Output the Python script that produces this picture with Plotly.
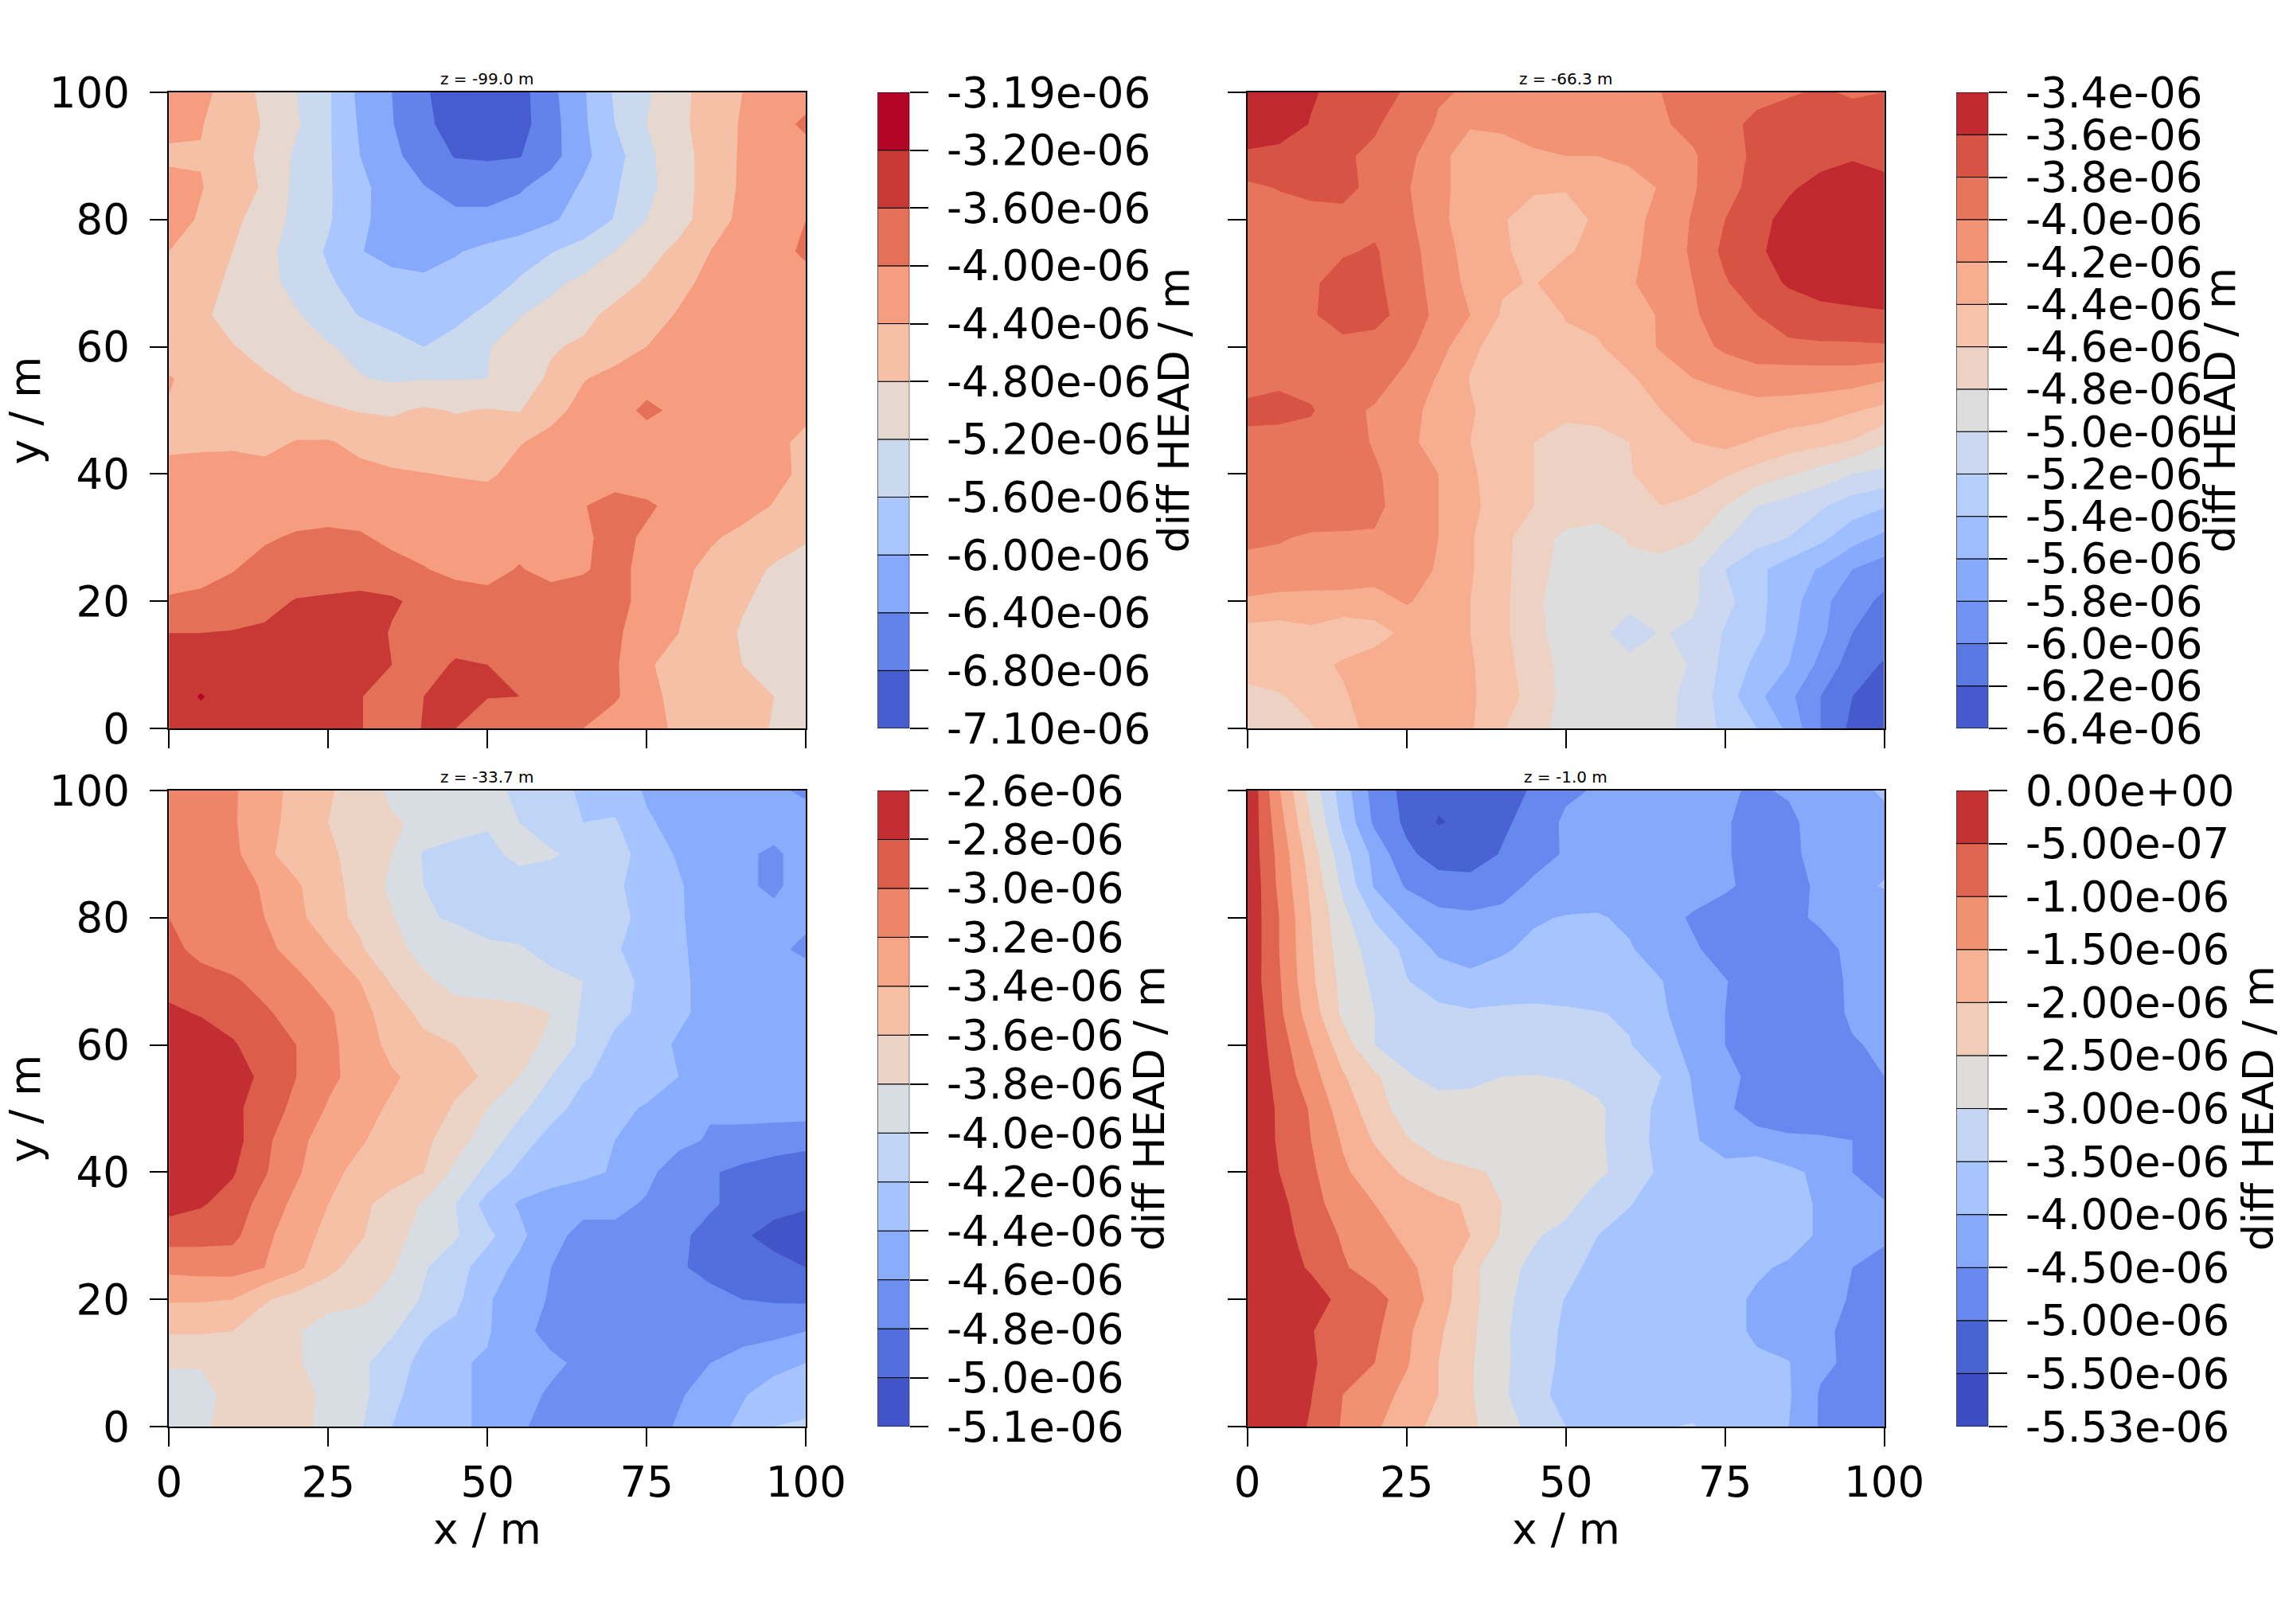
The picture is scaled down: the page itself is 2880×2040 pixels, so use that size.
import numpy as np
import plotly.graph_objects as go

W, H = 2880, 2040
x_m = list(range(0, 101, 5))
y_m = list(range(100, -1, -5))  # row order of the tables below, top row first

# diff HEAD in 1e-6 m, z = -99.0 m
head_z99 = [
[-4.2,-4.3,-4.57,-4.9,-5.2,-5.55,-6.1,-6.4,-6.75,-7.0,-7.1,-6.95,-6.5,-6.05,-5.55,-5.25,-4.9,-4.65,-4.4,-4.25,-4.1],
[-4.25,-4.38,-4.6,-4.83,-5.15,-5.55,-6.05,-6.38,-6.72,-6.95,-7.05,-6.95,-6.55,-6.07,-5.6,-5.2,-4.88,-4.65,-4.36,-4.1,-3.95],
[-4.5,-4.42,-4.65,-4.88,-5.27,-5.55,-6.0,-6.3,-6.6,-6.82,-6.85,-6.82,-6.55,-6.1,-5.75,-5.3,-4.95,-4.65,-4.35,-4.2,-4.1],
[-4.2,-4.38,-4.6,-4.85,-5.3,-5.55,-5.92,-6.15,-6.38,-6.55,-6.55,-6.45,-6.2,-5.95,-5.65,-5.3,-5.0,-4.6,-4.35,-4.2,-4.1],
[-4.2,-4.45,-4.7,-5.0,-5.3,-5.55,-5.95,-6.1,-6.2,-6.3,-6.3,-6.2,-6.05,-5.85,-5.58,-5.2,-4.95,-4.6,-4.3,-4.2,-4.0],
[-4.4,-4.6,-4.8,-5.1,-5.35,-5.65,-5.98,-6.15,-6.2,-6.03,-5.9,-5.8,-5.62,-5.45,-5.2,-4.95,-4.7,-4.4,-4.25,-4.1,-3.95],
[-4.5,-4.7,-4.85,-5.1,-5.3,-5.55,-5.75,-5.85,-5.9,-5.85,-5.8,-5.55,-5.3,-5.1,-4.95,-4.75,-4.5,-4.3,-4.2,-4.1,-4.1],
[-4.55,-4.72,-4.95,-5.05,-5.17,-5.4,-5.62,-5.75,-5.8,-5.7,-5.5,-5.22,-5.05,-4.9,-4.7,-4.55,-4.37,-4.3,-4.25,-4.2,-4.15],
[-4.55,-4.68,-4.78,-4.95,-5.1,-5.17,-5.3,-5.45,-5.6,-5.45,-5.22,-5.05,-4.83,-4.75,-4.55,-4.4,-4.3,-4.25,-4.2,-4.2,-4.15],
[-4.38,-4.5,-4.62,-4.75,-4.88,-5.0,-5.18,-5.25,-5.22,-5.22,-5.2,-4.95,-4.75,-4.42,-4.3,-4.2,-4.15,-4.15,-4.15,-4.15,-4.15],
[-4.42,-4.55,-4.58,-4.65,-4.7,-4.75,-4.82,-4.85,-4.75,-4.82,-4.78,-4.82,-4.5,-4.3,-4.2,-3.9,-4.1,-4.15,-4.15,-4.2,-4.3],
[-4.5,-4.47,-4.45,-4.5,-4.38,-4.37,-4.5,-4.6,-4.6,-4.65,-4.7,-4.42,-4.3,-4.2,-4.15,-4.22,-4.2,-4.2,-4.2,-4.3,-4.5],
[-4.25,-4.25,-4.27,-4.28,-4.25,-4.25,-4.3,-4.35,-4.39,-4.42,-4.45,-4.3,-4.25,-4.2,-4.2,-4.2,-4.2,-4.2,-4.25,-4.3,-4.48],
[-4.2,-4.2,-4.2,-4.2,-4.2,-4.2,-4.2,-4.22,-4.22,-4.25,-4.25,-4.2,-4.15,-4.02,-3.85,-3.95,-4.1,-4.15,-4.25,-4.42,-4.55],
[-4.2,-4.2,-4.18,-4.05,-3.95,-3.9,-3.95,-4.1,-4.15,-4.15,-4.15,-4.1,-4.1,-4.05,-3.9,-4.05,-4.2,-4.35,-4.5,-4.6,-4.75],
[-4.2,-4.15,-4.02,-3.85,-3.8,-3.78,-3.8,-3.85,-3.98,-4.1,-4.1,-3.98,-4.1,-4.03,-3.9,-4.1,-4.3,-4.5,-4.65,-4.85,-5.0],
[-3.95,-3.9,-3.8,-3.7,-3.58,-3.55,-3.5,-3.55,-3.7,-3.8,-3.9,-3.85,-3.85,-3.85,-3.9,-4.1,-4.35,-4.55,-4.75,-4.95,-5.05],
[-3.6,-3.6,-3.58,-3.55,-3.5,-3.45,-3.4,-3.63,-3.75,-3.8,-3.8,-3.8,-3.8,-3.85,-3.95,-4.15,-4.4,-4.55,-4.85,-4.95,-5.0],
[-3.5,-3.45,-3.45,-3.4,-3.4,-3.45,-3.45,-3.6,-3.78,-3.55,-3.6,-3.75,-3.8,-3.85,-3.95,-4.35,-4.55,-4.7,-4.8,-4.85,-5.0],
[-3.45,-3.17,-3.4,-3.4,-3.4,-3.42,-3.58,-3.8,-3.6,-3.55,-3.58,-3.6,-3.8,-3.85,-3.95,-4.25,-4.55,-4.7,-4.75,-4.8,-5.05],
[-3.5,-3.4,-3.45,-3.4,-3.4,-3.42,-3.58,-3.8,-3.58,-3.6,-3.9,-3.9,-3.9,-4.0,-4.2,-4.3,-4.45,-4.6,-4.7,-4.82,-4.95],
]

# z = -66.3 m
head_z66 = [
[-3.42,-3.48,-3.58,-3.66,-3.72,-3.82,-3.98,-4.02,-4.06,-4.08,-4.08,-4.08,-4.04,-4.0,-3.95,-3.82,-3.85,-3.82,-3.78,-3.82,-3.8],
[-3.45,-3.5,-3.61,-3.7,-3.78,-3.88,-4.02,-4.19,-4.17,-4.14,-4.13,-4.12,-4.1,-4.02,-3.95,-3.85,-3.76,-3.7,-3.7,-3.72,-3.78],
[-3.64,-3.66,-3.7,-3.78,-3.83,-3.92,-4.17,-4.25,-4.27,-4.22,-4.2,-4.2,-4.15,-4.08,-4.02,-3.88,-3.76,-3.68,-3.65,-3.62,-3.64],
[-3.84,-3.79,-3.75,-3.75,-3.85,-3.98,-4.15,-4.28,-4.35,-4.37,-4.38,-4.35,-4.3,-4.18,-4.02,-3.85,-3.75,-3.62,-3.55,-3.5,-3.56],
[-3.9,-3.88,-3.87,-3.85,-3.85,-3.95,-4.15,-4.3,-4.38,-4.5,-4.52,-4.35,-4.25,-4.15,-3.98,-3.8,-3.65,-3.55,-3.5,-3.45,-3.45],
[-3.92,-3.9,-3.87,-3.82,-3.78,-3.92,-4.1,-4.28,-4.38,-4.45,-4.42,-4.35,-4.25,-4.12,-3.97,-3.75,-3.62,-3.55,-3.5,-3.47,-3.45],
[-3.92,-3.9,-3.83,-3.72,-3.76,-3.9,-4.08,-4.25,-4.38,-4.41,-4.32,-4.3,-4.22,-4.12,-4.0,-3.82,-3.68,-3.58,-3.52,-3.5,-3.5],
[-3.92,-3.88,-3.82,-3.72,-3.73,-3.88,-4.05,-4.2,-4.42,-4.58,-4.38,-4.35,-4.28,-4.18,-4.03,-3.88,-3.8,-3.7,-3.66,-3.64,-3.62],
[-3.88,-3.88,-3.85,-3.85,-3.88,-3.95,-4.12,-4.35,-4.5,-4.52,-4.48,-4.42,-4.3,-4.18,-4.08,-3.96,-3.88,-3.84,-3.83,-3.83,-3.82],
[-3.88,-3.85,-3.88,-3.9,-3.92,-4.05,-4.22,-4.41,-4.5,-4.52,-4.52,-4.5,-4.43,-4.3,-4.2,-4.15,-4.1,-4.12,-4.12,-4.12,-4.18],
[-3.75,-3.72,-3.78,-3.95,-4.02,-4.15,-4.25,-4.38,-4.5,-4.55,-4.55,-4.55,-4.5,-4.4,-4.35,-4.3,-4.27,-4.27,-4.3,-4.38,-4.45],
[-3.85,-3.9,-3.88,-3.9,-4.02,-4.15,-4.28,-4.4,-4.52,-4.6,-4.68,-4.65,-4.6,-4.5,-4.4,-4.35,-4.42,-4.5,-4.55,-4.62,-4.78],
[-3.85,-3.85,-3.85,-3.88,-3.97,-4.1,-4.2,-4.37,-4.5,-4.6,-4.68,-4.68,-4.61,-4.53,-4.5,-4.58,-4.68,-4.78,-4.88,-5.0,-5.05],
[-3.88,-3.85,-3.85,-3.88,-3.95,-4.1,-4.2,-4.35,-4.5,-4.6,-4.65,-4.68,-4.72,-4.6,-4.65,-4.8,-5.0,-5.08,-5.17,-5.3,-5.38],
[-3.95,-3.98,-4.03,-4.03,-4.02,-4.1,-4.2,-4.38,-4.55,-4.7,-4.85,-4.9,-4.78,-4.7,-4.78,-4.98,-5.12,-5.2,-5.35,-5.52,-5.65],
[-4.08,-4.08,-4.1,-4.02,-4.1,-4.1,-4.22,-4.38,-4.55,-4.72,-4.88,-4.9,-4.85,-4.9,-4.95,-5.2,-5.35,-5.5,-5.62,-5.8,-5.9],
[-4.22,-4.25,-4.25,-4.3,-4.28,-4.18,-4.28,-4.4,-4.55,-4.75,-4.92,-4.93,-4.95,-4.98,-4.97,-5.13,-5.35,-5.5,-5.75,-5.9,-6.05],
[-4.48,-4.5,-4.45,-4.5,-4.48,-4.35,-4.3,-4.4,-4.55,-4.75,-4.88,-4.95,-5.08,-4.99,-5.03,-5.22,-5.35,-5.55,-5.75,-6.0,-6.1],
[-4.45,-4.48,-4.45,-4.38,-4.3,-4.3,-4.3,-4.38,-4.52,-4.72,-4.85,-4.9,-4.95,-4.85,-5.04,-5.25,-5.45,-5.6,-5.85,-6.1,-6.22],
[-4.7,-4.62,-4.52,-4.42,-4.32,-4.3,-4.3,-4.38,-4.48,-4.7,-4.85,-4.9,-4.93,-4.95,-5.05,-5.3,-5.55,-5.75,-6.0,-6.2,-6.3],
[-4.75,-4.72,-4.62,-4.45,-4.35,-4.33,-4.33,-4.38,-4.58,-4.75,-4.85,-4.9,-4.92,-4.95,-5.06,-5.25,-5.4,-5.65,-6.0,-6.25,-6.35],
]

# z = -33.7 m
head_z34 = [
[-3.05,-3.1,-3.18,-3.3,-3.47,-3.58,-3.68,-3.85,-3.9,-3.95,-3.97,-4.02,-4.15,-4.22,-4.3,-4.42,-4.45,-4.5,-4.55,-4.58,-4.62],
[-3.05,-3.1,-3.17,-3.38,-3.42,-3.6,-3.7,-3.77,-3.85,-3.9,-3.98,-4.0,-4.1,-4.2,-4.18,-4.38,-4.45,-4.5,-4.55,-4.55,-4.55],
[-3.03,-3.08,-3.15,-3.35,-3.5,-3.55,-3.7,-3.8,-4.02,-4.08,-4.05,-3.95,-3.98,-4.05,-4.1,-4.3,-4.42,-4.5,-4.58,-4.62,-4.55],
[-3.07,-3.1,-3.12,-3.22,-3.37,-3.55,-3.65,-3.85,-4.0,-4.1,-4.1,-4.08,-4.1,-4.12,-4.18,-4.25,-4.38,-4.5,-4.58,-4.62,-4.55],
[-3.0,-3.05,-3.12,-3.2,-3.33,-3.55,-3.63,-3.78,-3.98,-4.02,-4.1,-4.1,-4.1,-4.1,-4.15,-4.25,-4.38,-4.48,-4.53,-4.57,-4.58],
[-2.95,-3.05,-3.12,-3.15,-3.27,-3.38,-3.58,-3.72,-3.88,-3.92,-3.95,-3.98,-4.06,-4.1,-4.18,-4.28,-4.38,-4.45,-4.52,-4.58,-4.62],
[-2.9,-2.93,-2.97,-3.07,-3.15,-3.28,-3.4,-3.62,-3.75,-3.88,-3.9,-3.9,-3.95,-4.0,-4.12,-4.25,-4.37,-4.45,-4.5,-4.55,-4.55],
[-2.75,-2.82,-2.88,-2.97,-3.08,-3.17,-3.33,-3.5,-3.65,-3.7,-3.72,-3.75,-3.8,-4.03,-4.15,-4.25,-4.37,-4.45,-4.5,-4.55,-4.5],
[-2.6,-2.65,-2.78,-2.9,-3.0,-3.15,-3.3,-3.45,-3.55,-3.6,-3.68,-3.72,-3.85,-4.05,-4.25,-4.33,-4.42,-4.47,-4.48,-4.47,-4.45],
[-2.6,-2.62,-2.7,-2.85,-3.0,-3.15,-3.28,-3.38,-3.45,-3.55,-3.62,-3.8,-4.0,-4.18,-4.26,-4.3,-4.4,-4.45,-4.47,-4.47,-4.45],
[-2.6,-2.62,-2.75,-2.9,-3.05,-3.22,-3.35,-3.42,-3.5,-3.62,-3.8,-3.95,-4.12,-4.28,-4.35,-4.42,-4.5,-4.58,-4.55,-4.52,-4.5],
[-2.62,-2.65,-2.72,-2.95,-3.15,-3.28,-3.38,-3.48,-3.55,-3.72,-3.9,-4.1,-4.28,-4.35,-4.4,-4.5,-4.55,-4.62,-4.65,-4.7,-4.75],
[-2.68,-2.7,-2.78,-2.98,-3.17,-3.35,-3.45,-3.5,-3.6,-3.85,-4.05,-4.25,-4.3,-4.35,-4.42,-4.55,-4.7,-4.78,-4.85,-4.9,-4.9],
[-2.72,-2.78,-2.88,-3.08,-3.25,-3.4,-3.55,-3.68,-3.82,-4.0,-4.28,-4.42,-4.5,-4.55,-4.55,-4.62,-4.7,-4.78,-4.85,-4.95,-4.98],
[-2.92,-2.93,-2.95,-3.15,-3.32,-3.45,-3.58,-3.72,-3.88,-3.98,-4.15,-4.35,-4.55,-4.65,-4.65,-4.7,-4.77,-4.85,-4.98,-5.05,-5.08],
[-3.15,-3.13,-3.12,-3.2,-3.35,-3.55,-3.68,-3.78,-3.98,-4.12,-4.3,-4.45,-4.6,-4.65,-4.68,-4.7,-4.78,-4.85,-4.9,-4.95,-5.0],
[-3.38,-3.38,-3.4,-3.58,-3.68,-3.72,-3.75,-3.88,-4.02,-4.15,-4.38,-4.5,-4.62,-4.7,-4.72,-4.72,-4.72,-4.75,-4.8,-4.82,-4.83],
[-3.58,-3.58,-3.6,-3.7,-3.78,-3.9,-3.95,-3.97,-4.18,-4.25,-4.38,-4.55,-4.65,-4.7,-4.7,-4.72,-4.72,-4.72,-4.7,-4.65,-4.6],
[-3.78,-3.78,-3.72,-3.75,-3.78,-3.88,-3.95,-4.12,-4.25,-4.38,-4.42,-4.55,-4.57,-4.63,-4.65,-4.7,-4.7,-4.6,-4.5,-4.47,-4.4],
[-3.9,-3.88,-3.72,-3.68,-3.72,-3.85,-3.95,-4.12,-4.35,-4.38,-4.42,-4.55,-4.62,-4.68,-4.7,-4.7,-4.62,-4.52,-4.42,-4.3,-4.35],
[-3.9,-3.85,-3.7,-3.68,-3.75,-3.85,-3.98,-4.2,-4.32,-4.37,-4.43,-4.58,-4.65,-4.7,-4.7,-4.68,-4.58,-4.48,-4.35,-4.2,-4.15],
]

# z = -1.0 m
head_z1 = [
[0.0,-1.47,-2.7,-3.75,-4.7,-5.15,-5.4,-5.45,-5.35,-4.9,-4.6,-4.45,-4.35,-4.2,-4.3,-4.45,-4.55,-4.45,-4.3,-4.1,-3.95],
[-0.05,-1.3,-2.5,-3.6,-4.6,-5.1,-5.53,-5.4,-5.07,-4.85,-4.4,-4.4,-4.25,-4.1,-4.3,-4.45,-4.7,-4.6,-4.3,-4.2,-4.1],
[-0.1,-1.15,-2.25,-3.3,-4.15,-4.9,-5.2,-5.2,-4.97,-4.7,-4.45,-4.45,-4.3,-4.25,-4.3,-4.45,-4.7,-4.6,-4.35,-4.25,-4.2],
[-0.05,-1.1,-2.1,-3.1,-4.05,-4.55,-4.8,-4.85,-4.7,-4.4,-4.3,-4.25,-4.2,-4.2,-4.3,-4.45,-4.6,-4.6,-4.45,-4.2,-3.95],
[-0.1,-1.0,-2.0,-2.85,-3.55,-4.1,-4.35,-4.4,-4.35,-4.05,-3.97,-3.95,-4.1,-4.35,-4.55,-4.65,-4.75,-4.65,-4.4,-4.4,-4.4],
[-0.1,-1.0,-1.95,-2.75,-3.2,-3.6,-4.1,-4.3,-4.05,-3.9,-3.85,-3.85,-3.95,-4.25,-4.45,-4.65,-4.8,-4.8,-4.7,-4.35,-4.4],
[-0.15,-0.95,-1.9,-2.65,-3.1,-3.48,-3.7,-3.8,-3.8,-3.8,-3.8,-3.8,-3.85,-3.98,-4.35,-4.48,-4.7,-4.8,-4.75,-4.4,-4.35],
[-0.05,-0.9,-1.75,-2.6,-3.0,-3.2,-3.4,-3.45,-3.4,-3.37,-3.42,-3.48,-3.55,-3.9,-4.35,-4.5,-4.75,-4.85,-4.8,-4.4,-4.35],
[-0.1,-0.75,-1.5,-2.25,-3.0,-3.2,-3.3,-3.3,-3.3,-3.3,-3.3,-3.35,-3.48,-3.75,-4.2,-4.5,-4.75,-4.8,-4.8,-4.55,-4.4],
[-0.1,-0.65,-1.3,-1.95,-2.4,-2.95,-3.15,-3.15,-3.0,-2.98,-3.03,-3.2,-3.35,-3.5,-4.05,-4.4,-4.6,-4.7,-4.75,-4.8,-4.5],
[-0.2,-0.55,-1.05,-1.75,-2.25,-2.75,-2.8,-2.75,-2.7,-2.7,-2.75,-2.9,-3.3,-3.6,-3.98,-4.4,-4.75,-4.85,-4.9,-4.85,-4.85],
[-0.15,-0.55,-1.0,-1.55,-2.05,-2.45,-2.75,-2.8,-2.8,-2.72,-2.75,-2.97,-3.1,-3.75,-3.95,-4.2,-4.3,-4.4,-4.42,-4.5,-4.8],
[-0.2,-0.5,-0.9,-1.42,-1.75,-2.1,-2.3,-2.45,-2.55,-2.7,-2.72,-2.9,-3.2,-3.6,-4.0,-3.85,-3.7,-3.9,-4.1,-4.5,-4.85],
[-0.1,-0.35,-0.85,-1.2,-1.5,-1.65,-1.9,-2.05,-2.5,-2.75,-2.85,-3.25,-3.48,-3.7,-4.0,-3.95,-3.8,-3.85,-4.05,-4.4,-4.45],
[-0.1,-0.3,-0.7,-1.05,-1.3,-1.6,-1.8,-2.0,-2.55,-2.95,-3.15,-3.5,-3.65,-3.75,-3.8,-3.75,-3.8,-3.85,-4.05,-4.25,-4.4],
[-0.1,-0.3,-0.55,-0.95,-1.2,-1.4,-1.7,-2.35,-2.85,-3.1,-3.3,-3.7,-3.75,-3.8,-3.8,-3.85,-3.95,-4.05,-4.3,-4.5,-4.7],
[-0.05,-0.15,-0.3,-0.62,-0.85,-1.2,-1.75,-2.35,-2.85,-3.25,-3.52,-3.7,-3.75,-3.75,-3.8,-3.9,-4.05,-4.15,-4.3,-4.55,-4.7],
[-0.1,-0.2,-0.48,-0.7,-0.9,-1.4,-1.92,-2.4,-2.88,-3.35,-3.55,-3.75,-3.8,-3.85,-3.9,-3.9,-4.05,-4.25,-4.42,-4.6,-4.75],
[-0.08,-0.2,-0.45,-0.7,-1.0,-1.45,-2.0,-2.45,-2.85,-3.4,-3.55,-3.75,-3.8,-3.85,-3.85,-3.9,-3.95,-3.98,-4.4,-4.6,-4.75],
[-0.1,-0.2,-0.48,-1.0,-1.25,-1.65,-2.0,-2.45,-2.9,-3.4,-3.6,-3.75,-3.8,-3.8,-3.85,-3.9,-3.9,-3.95,-4.55,-4.65,-4.75],
[-0.1,-0.2,-0.55,-1.05,-1.42,-1.8,-2.15,-2.4,-2.8,-3.15,-3.5,-3.7,-3.8,-3.55,-3.45,-3.95,-3.8,-4.0,-4.55,-4.65,-4.8],
]

levels_z99 = [-7.1,-6.8,-6.4,-6.0,-5.6,-5.2,-4.8,-4.4,-4.0,-3.6,-3.2,-3.19]
levels_z66 = [-6.4,-6.2,-6.0,-5.8,-5.6,-5.4,-5.2,-5.0,-4.8,-4.6,-4.4,-4.2,-4.0,-3.8,-3.6,-3.4]
levels_z34 = [-5.1,-5.0,-4.8,-4.6,-4.4,-4.2,-4.0,-3.8,-3.6,-3.4,-3.2,-3.0,-2.8,-2.6]
levels_z1 = [-5.53,-5.5,-5.0,-4.5,-4.0,-3.5,-3.0,-2.5,-2.0,-1.5,-1.0,-0.5,0.0]

labels_z99 = ["-7.10e-06","-6.80e-06","-6.40e-06","-6.00e-06","-5.60e-06","-5.20e-06","-4.80e-06","-4.40e-06","-4.00e-06","-3.60e-06","-3.20e-06","-3.19e-06"]
labels_z66 = ["-6.4e-06","-6.2e-06","-6.0e-06","-5.8e-06","-5.6e-06","-5.4e-06","-5.2e-06","-5.0e-06","-4.8e-06","-4.6e-06","-4.4e-06","-4.2e-06","-4.0e-06","-3.8e-06","-3.6e-06","-3.4e-06"]
labels_z34 = ["-5.1e-06","-5.0e-06","-4.8e-06","-4.6e-06","-4.4e-06","-4.2e-06","-4.0e-06","-3.8e-06","-3.6e-06","-3.4e-06","-3.2e-06","-3.0e-06","-2.8e-06","-2.6e-06"]
labels_z1 = ["-5.53e-06","-5.50e-06","-5.00e-06","-4.50e-06","-4.00e-06","-3.50e-06","-3.00e-06","-2.50e-06","-2.00e-06","-1.50e-06","-1.00e-06","-5.00e-07","0.00e+00"]

titles = ["z = -99.0 m", "z = -66.3 m", "z = -33.7 m", "z = -1.0 m"]
xticks = [0, 25, 50, 75, 100]
yticks = [0, 20, 40, 60, 80, 100]

# coolwarm colour table
COOLWARM = np.array([
(59,76,192),(68,90,204),(77,104,215),(87,117,225),(98,130,234),(108,142,241),(119,154,247),(130,165,251),
(141,176,254),(152,185,255),(163,194,255),(174,201,253),(184,208,249),(194,213,244),(204,217,238),(213,219,230),
(221,221,221),(229,216,209),(236,211,197),(241,204,185),(245,196,173),(247,187,160),(247,177,148),(247,166,135),
(244,154,123),(241,141,111),(236,127,99),(229,112,88),(222,96,77),(213,80,66),(203,62,56),(192,40,47),(180,4,38)], float)

def coolwarm(t):
    pos = np.linspace(0, 1, len(COOLWARM))
    return "rgb(%d,%d,%d)" % tuple(round(float(np.interp(t, pos, COOLWARM[:, c]))) for c in range(3))

def band_colors(levels):
    lv = np.array(levels)
    mids = (lv[:-1] + lv[1:]) / 2
    return [coolwarm((m - lv[0]) / (lv[-1] - lv[0])) for m in mids]

TICK_FONT = dict(family="DejaVu Sans", size=53, color="black")
CB_FONT = dict(family="DejaVu Sans", size=53, color="black")
LABEL_SIZE = 53.5
TICKLEN = 23
LINE_W = 1.5
PAGE_MARGIN = 8  # the browser's default body margin

AX_W, AX_H = 800, 799
CB_W = 40
panels = [
    dict(z=head_z99, lv=levels_z99, lab=labels_z99, x0=212.3, y0=116, cbx=1102.3, lx=1474, xl=False, yl=True),
    dict(z=head_z66, lv=levels_z66, lab=labels_z66, x0=1566.7, y0=116, cbx=2457.3, lx=2788, xl=False, yl=False),
    dict(z=head_z34, lv=levels_z34, lab=labels_z34, x0=212.3, y0=993, cbx=1102.3, lx=1443, xl=True, yl=True),
    dict(z=head_z1, lv=levels_z1, lab=labels_z1, x0=1566.7, y0=993, cbx=2457.3, lx=2836, xl=True, yl=False),
]

fig = go.Figure()
layout = {}
annotations = []

def px(x):
    return (x - PAGE_MARGIN) / W

def py(y):
    return 1 - (y - PAGE_MARGIN) / H

for i, (p, title) in enumerate(zip(panels, titles)):
    a = 2 * i + 1
    b = 2 * i + 2
    lv = p["lv"]
    cols = band_colors(lv)
    n = len(cols)
    scale = [[k / (n - 1), c] for k, c in enumerate(cols)]
    step = lv[2] - lv[1] if i != 2 else 0.2
    start, end = lv[1], lv[-2]
    z = np.array(p["z"])
    assert z.shape == (21, 21)
    fig.add_trace(go.Contour(
        x=x_m, y=y_m[::-1], z=z[::-1].tolist(), colorscale=scale, showscale=False,
        autocontour=False, contours=dict(start=start, end=end, size=step, coloring="fill", showlines=False),
        line=dict(width=0, smoothing=0), hoverinfo="skip",
        xaxis=f"x{a}", yaxis=f"y{a}"))
    fig.add_trace(go.Bar(
        x=[0] * n, y=[1] * n, base=list(range(n)), width=1,
        marker=dict(color=cols, line=dict(color="black", width=1)),
        hoverinfo="skip", xaxis=f"x{b}", yaxis=f"y{b}", showlegend=False))
    common = dict(showgrid=False, zeroline=False, ticks="outside", ticklen=TICKLEN, tickwidth=LINE_W,
                  tickcolor="black", linecolor="black", linewidth=LINE_W, showline=True, mirror=True,
                  tickfont=TICK_FONT, range=[0, 100], tickmode="array", automargin=False)
    layout[f"xaxis{a}"] = dict(common, domain=[px(p["x0"]), px(p["x0"] + AX_W)], anchor=f"y{a}",
                              tickvals=xticks, showticklabels=p["xl"])
    layout[f"yaxis{a}"] = dict(common, domain=[py(p["y0"] + AX_H), py(p["y0"])], anchor=f"x{a}",
                              tickvals=yticks, showticklabels=p["yl"], ticklabelstandoff=14)
    layout[f"xaxis{b}"] = dict(domain=[px(p["cbx"]), px(p["cbx"] + CB_W)], anchor=f"y{b}", range=[-0.5, 0.5],
                              visible=False, fixedrange=True, automargin=False)
    layout[f"yaxis{b}"] = dict(domain=[py(p["y0"] + AX_H), py(p["y0"])], anchor=f"x{b}", side="right",
                              range=[0, n], tickmode="array", tickvals=list(range(n + 1)), ticktext=p["lab"],
                              ticks="outside", ticklen=TICKLEN, tickwidth=LINE_W, tickcolor="black", automargin=False,
                              showgrid=False, zeroline=False, showline=False, tickfont=CB_FONT, ticklabelstandoff=12)
    cx = p["x0"] + AX_W / 2
    cy = p["y0"] + AX_H / 2
    annotations.append(dict(text=title, x=px(cx), y=py(p["y0"] - 17), xref="paper", yref="paper", showarrow=False,
                            font=dict(family="DejaVu Sans", size=20, color="black"), xanchor="center", yanchor="middle"))
    annotations.append(dict(text="diff HEAD / m", x=px(p["lx"]), y=py(cy), xref="paper", yref="paper", showarrow=False,
                            textangle=-90, font=dict(family="DejaVu Sans", size=LABEL_SIZE, color="black"),
                            xanchor="center", yanchor="middle"))
    if p["xl"]:
        annotations.append(dict(text="x / m", x=px(cx), y=py(1920), xref="paper", yref="paper", showarrow=False,
                                font=dict(family="DejaVu Sans", size=LABEL_SIZE, color="black"),
                                xanchor="center", yanchor="middle"))
    if p["yl"]:
        annotations.append(dict(text="y / m", x=px(31), y=py(cy), xref="paper", yref="paper", showarrow=False,
                                textangle=-90, font=dict(family="DejaVu Sans", size=LABEL_SIZE, color="black"),
                                xanchor="center", yanchor="middle"))

fig.update_layout(width=W, height=H, margin=dict(l=0, r=0, t=0, b=0, autoexpand=False), paper_bgcolor="white",
                  plot_bgcolor="white", showlegend=False, barmode="overlay", annotations=annotations, **layout)
fig.write_html("out.html")
